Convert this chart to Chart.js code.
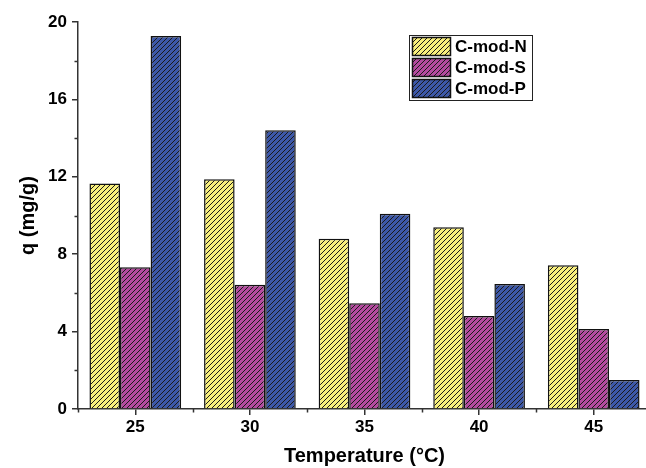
<!DOCTYPE html>
<html>
<head>
<meta charset="utf-8">
<script src="https://cdn.jsdelivr.net/npm/chart.js@4.4.1/dist/chart.umd.min.js"></script>
<style>
  html, body { margin: 0; padding: 0; overflow: hidden; background: #fff; }
  #wrap { width: 651px; height: 468px; }
</style>
</head>
<body>
<div id="wrap"><canvas id="chart"></canvas></div>
<script>
// data
var temperatures = ['25', '30', '35', '40', '45'];
var seriesNames = ['C-mod-N', 'C-mod-S', 'C-mod-P'];
var cmodN = [11.66, 11.87, 8.80, 9.39, 7.43];
var cmodS = [7.32, 6.42, 5.46, 4.81, 4.13];
var cmodP = [19.28, 14.40, 10.09, 6.46, 1.50];
var yTicks = [0, 4, 8, 12, 16, 20];

var FONT = '"Liberation Sans", Arial, sans-serif';

function hatch(color) {
    var s = 5;
    var c = document.createElement('canvas');
    c.width = s; c.height = s;
    var g = c.getContext('2d');
    g.fillStyle = color;
    g.fillRect(0, 0, s, s);
    g.strokeStyle = '#1a1a1a';
    g.lineWidth = 1;
    g.beginPath();
    g.moveTo(0, s); g.lineTo(s, 0);
    g.moveTo(-1, 1); g.lineTo(1, -1);
    g.moveTo(s - 1, s + 1); g.lineTo(s + 1, s - 1);
    g.stroke();
    return g.createPattern(c, 'repeat');
}

var fills = [hatch('#f8ef7c'), hatch('#b44b9f'), hatch('#3d58a8')];

// minor ticks on both axes + boxed legend
var extras = {
    id: 'extras',
    afterDraw: function (chart) {
        var ctx = chart.ctx;
        var xs = chart.scales.x, ys = chart.scales.y;
        ctx.save();
        ctx.strokeStyle = '#333';
        ctx.lineWidth = 1.5;
        ctx.beginPath();
        for (var v = 2; v < 20; v += 4) {
            var py = Math.round(ys.getPixelForValue(v)) + 0.5;
            ctx.moveTo(xs.left, py); ctx.lineTo(xs.left - 3.5, py);
        }
        var step = xs.getPixelForValue(1) - xs.getPixelForValue(0);
        for (var i = 0; i <= temperatures.length; i++) {
            var px = Math.round(xs.getPixelForValue(i) - step / 2) + 0.5;
            ctx.moveTo(px, ys.bottom); ctx.lineTo(px, ys.bottom + 3.5);
        }
        ctx.stroke();

        // legend
        var lx = 409, ly = 35, lw = 123, rowH = 21;
        var lh = rowH * 3 + 2;
        ctx.fillStyle = '#fff';
        ctx.fillRect(lx, ly, lw, lh);
        ctx.strokeStyle = '#222';
        ctx.lineWidth = 1;
        ctx.strokeRect(lx + 0.5, ly + 0.5, lw, lh);
        ctx.font = 'bold 17px ' + FONT;
        ctx.textBaseline = 'middle';
        chart.data.datasets.forEach(function (ds, k) {
            var y0 = ly + 2.5 + k * rowH;
            ctx.fillStyle = ds.backgroundColor;
            ctx.fillRect(lx + 3.5, y0, 38, 18);
            ctx.lineWidth = 1.5;
            ctx.strokeStyle = '#111';
            ctx.strokeRect(lx + 3.5, y0, 38, 18);
            ctx.fillStyle = '#000';
            ctx.fillText(ds.label, lx + 46, y0 + 10);
        });
        ctx.restore();
    }
};

new Chart(document.getElementById('chart'), {
    type: 'bar',
    data: {
        labels: temperatures,
        datasets: [
            { label: seriesNames[0], data: cmodN, backgroundColor: fills[0] },
            { label: seriesNames[1], data: cmodS, backgroundColor: fills[1] },
            { label: seriesNames[2], data: cmodP, backgroundColor: fills[2] }
        ]
    },
    options: {
        responsive: true,
        maintainAspectRatio: false,
        animation: false,
        layout: { padding: { top: 22, right: 0, left: 0, bottom: 0 } },
        datasets: {
            bar: {
                borderColor: '#111',
                borderWidth: 1.5,
                categoryPercentage: 0.8,
                barPercentage: 1.0
            }
        },
        plugins: { legend: { display: false }, tooltip: { enabled: false } },
        scales: {
            x: {
                grid: { display: true, offset: false, drawOnChartArea: false, tickLength: 6, color: '#333', lineWidth: 1.5 },
                border: { color: '#333', width: 1.5 },
                ticks: { color: '#000', font: { family: FONT, size: 17, weight: 'bold' }, padding: 2 },
                title: { display: true, text: 'Temperature (°C)', color: '#000', font: { family: FONT, size: 20, weight: 'bold' }, padding: { top: 4, bottom: 0 } },
                afterFit: function (s) { s.height = 59; }
            },
            y: {
                min: 0, max: 20,
                afterBuildTicks: function (s) { s.ticks = yTicks.map(function (v) { return { value: v }; }); },
                grid: { drawOnChartArea: false, tickLength: 6, color: '#333', lineWidth: 1.5 },
                border: { color: '#333', width: 1.5 },
                ticks: { color: '#000', font: { family: FONT, size: 17, weight: 'bold' }, padding: 5 },
                title: { display: true, text: 'q (mg/g)', color: '#000', font: { family: FONT, size: 20, weight: 'bold' }, padding: { top: 16, bottom: 0 } },
                afterFit: function (s) { s.width = 78; }
            }
        }
    },
    plugins: [extras]
});
</script>
</body>
</html>
